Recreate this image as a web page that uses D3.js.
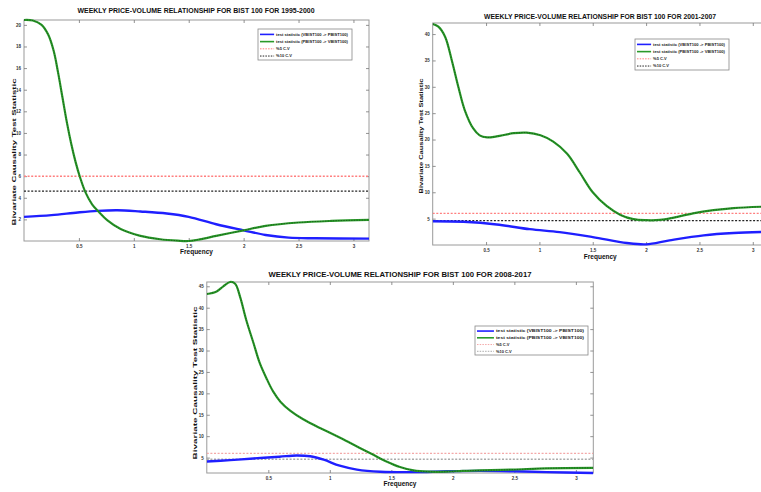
<!DOCTYPE html>
<html><head><meta charset="utf-8">
<script src="https://cdn.jsdelivr.net/npm/d3@7"></script>
<style>body{margin:0;background:#fff}svg{display:block}</style>
</head><body>
<svg id="c" width="761" height="492"></svg>
<script>
// ---------- DATA ----------
const titles = [
  "WEEKLY PRICE-VOLUME RELATIONSHIP FOR BIST 100 FOR 1995-2000",
  "WEEKLY PRICE-VOLUME RELATIONSHIP FOR BIST 100 FOR 2001-2007",
  "WEEKLY PRICE-VOLUME RELATIONSHIP FOR BIST 100 FOR 2008-2017"
];
const xLabel = "Frequency";
const yLabel = "Bivariate Causality Test Statistic";
const legendLabels = [
  "test statistic (VBIST100 -> PBIST100)",
  "test statistic (PBIST100 -> VBIST100)",
  "%5 C.V",
  "%10 C.V"
];
const freqTicks = [0.5, 1, 1.5, 2, 2.5, 3];
const yTicks1 = [2, 4, 6, 8, 10, 12, 14, 16, 18, 20];
const yTicks2 = [5, 10, 15, 20, 25, 30, 35, 40];
const yTicks3 = [5, 10, 15, 20, 25, 30, 35, 40, 45];
const cv5 = 5.99;
const cv10 = 4.61;

// Panel 1 (1995-2000)
const freq1Blue = [0, 0.25, 0.49, 0.67, 0.85, 1.06, 1.30, 1.50, 1.75, 2.00, 2.20, 2.41, 2.65, 3.1416];
const stat1Blue = [2.23, 2.39, 2.64, 2.79, 2.85, 2.73, 2.54, 2.23, 1.55, 0.99, 0.56, 0.31, 0.25, 0.22];
const freq1Green = [0, 0.08, 0.16, 0.22, 0.27, 0.31, 0.35, 0.39, 0.43, 0.47, 0.51, 0.56, 0.62, 0.68, 0.76, 0.88, 1.06, 1.24, 1.40, 1.50, 1.60, 1.75, 2.00, 2.20, 2.50, 2.80, 3.1416];
const stat1Green = [20.45, 20.4, 20.0, 19.1, 17.6, 15.6, 13.3, 11.0, 9.0, 7.3, 5.9, 4.5, 3.4, 2.7, 1.9, 1.1, 0.47, 0.16, 0.03, 0.0, 0.15, 0.47, 0.99, 1.40, 1.71, 1.86, 1.95];

// Panel 2 (2001-2007)
const freq2Blue = [0, 0.29, 0.60, 0.91, 1.19, 1.50, 1.82, 2.00, 2.22, 2.54, 2.82, 3.1416];
const stat2Blue = [4.5, 4.4, 3.9, 3.0, 2.45, 1.5, 0.37, 0.12, 0.88, 1.83, 2.27, 2.5];
const freq2Green = [0, 0.053, 0.116, 0.178, 0.24, 0.30, 0.38, 0.44, 0.51, 0.60, 0.76, 0.88, 1.01, 1.13, 1.26, 1.38, 1.50, 1.63, 1.76, 1.88, 2.00, 2.13, 2.26, 2.44, 2.63, 2.82, 3.1416];
const stat2Green = [41.9, 41.4, 39.5, 35.1, 30.0, 25.6, 22.1, 20.8, 20.4, 20.6, 21.2, 21.3, 20.8, 19.6, 17.3, 13.7, 10.0, 7.4, 5.7, 4.9, 4.7, 4.75, 5.2, 6.0, 6.6, 7.0, 7.3];

// Panel 3 (2008-2017)
const freq3Blue = [0, 0.19, 0.38, 0.59, 0.73, 0.84, 0.95, 1.08, 1.22, 1.41, 1.68, 1.95, 2.22, 2.49, 2.76, 3.1416];
const stat3Blue = [4.1, 4.4, 4.8, 5.2, 5.5, 5.3, 4.5, 3.1, 2.2, 1.7, 1.6, 1.8, 1.9, 1.8, 1.6, 1.4];
const freq3Green = [0, 0.08, 0.134, 0.189, 0.23, 0.27, 0.32, 0.38, 0.43, 0.49, 0.54, 0.60, 0.68, 0.78, 0.92, 1.03, 1.14, 1.24, 1.35, 1.46, 1.57, 1.68, 1.81, 1.95, 2.08, 2.22, 2.49, 2.76, 3.1416];
const stat3Green = [43.2, 43.8, 45.0, 46.0, 45.6, 42.6, 37.2, 31.7, 27.1, 23.2, 20.4, 18.0, 15.9, 14.0, 11.9, 10.4, 8.8, 7.3, 5.7, 4.1, 2.8, 2.0, 1.7, 1.7, 1.9, 2.0, 2.2, 2.5, 2.6];

// ---------- LAYOUT ----------
const panels = [
  {left:24, right:369, top:20, bottom:241, yDomain:[0, 20.45], yTicks:yTicks1,
   blue:[freq1Blue, stat1Blue], green:[freq1Green, stat1Green], title:titles[0],
   titleX:196, titleY:13, titleLen:237, ylabX:16, ylabY:152, ylabLen:147, xlabY:254,
   leg:{x:258, y:29, w:94, h:31}, red:"#ff7f7f", blk:"#222"},
  {left:432.7, right:767.9, top:23, bottom:245, yDomain:[0, 42.1], yTicks:yTicks2,
   blue:[freq2Blue, stat2Blue], green:[freq2Green, stat2Green], title:titles[1],
   titleX:600, titleY:19, titleLen:232, ylabX:423, ylabY:136, ylabLen:115, xlabY:259,
   leg:{x:635, y:39, w:94, h:31}, red:"#ff7f7f", blk:"#222"},
  {left:206.8, right:593.3, top:282, bottom:473, yDomain:[1.4, 46.0], yTicks:yTicks3,
   blue:[freq3Blue, stat3Blue], green:[freq3Green, stat3Green], title:titles[2],
   titleX:400, titleY:277, titleLen:263, ylabX:197, ylabY:383, ylabLen:153, xlabY:486,
   leg:{x:475, y:326, w:113, h:29}, red:"#f4a8a8", blk:"#aaa"}
];

const svg = d3.select("#c");
const BLUE = "#1f1fff", GREEN = "#2a9a2a";

panels.forEach((p, i) => {
  const x = d3.scaleLinear().domain([0, Math.PI]).range([p.left, p.right]);
  const y = d3.scaleLinear().domain(p.yDomain).range([p.bottom, p.top]);
  const g = svg.append("g");
  const cid = "clip" + i;
  svg.append("clipPath").attr("id", cid).append("rect")
    .attr("x", p.left).attr("y", p.top - 2).attr("width", p.right - p.left).attr("height", p.bottom - p.top + 4);

  g.append("rect").attr("x", p.left).attr("y", p.top).attr("width", p.right - p.left).attr("height", p.bottom - p.top)
    .attr("fill", "none").attr("stroke", "#9a9a9a").attr("stroke-width", 1);

  const styleAxis = (sel, showLabels) => {
    sel.select(".domain").remove();
    sel.selectAll(".tick line").attr("stroke", "#777").attr("stroke-width", 0.8);
    sel.selectAll(".tick text").attr("fill", "#333").style("font", "bold 4.5px Arial, sans-serif")
      .attr("opacity", showLabels ? 1 : 0);
  };
  g.append("g").attr("transform", `translate(0,${p.bottom})`)
    .call(d3.axisBottom(x).tickValues(freqTicks).tickSizeInner(-3).tickSizeOuter(0).tickPadding(4).tickFormat(d3.format("")))
    .call(s => styleAxis(s, true));
  g.append("g").attr("transform", `translate(0,${p.top})`)
    .call(d3.axisTop(x).tickValues(freqTicks).tickSizeInner(-3).tickSizeOuter(0).tickFormat(""))
    .call(s => styleAxis(s, false));
  g.append("g").attr("transform", `translate(${p.left},0)`)
    .call(d3.axisLeft(y).tickValues(p.yTicks).tickSizeInner(-3).tickSizeOuter(0).tickPadding(3).tickFormat(d3.format("")))
    .call(s => styleAxis(s, true));
  g.append("g").attr("transform", `translate(${p.right},0)`)
    .call(d3.axisRight(y).tickValues(p.yTicks).tickSizeInner(-3).tickSizeOuter(0).tickFormat(""))
    .call(s => styleAxis(s, false));

  const plot = g.append("g").attr("clip-path", `url(#${cid})`);
  plot.append("line").attr("x1", p.left).attr("x2", p.right).attr("y1", y(cv5)).attr("y2", y(cv5))
    .attr("stroke", p.red).attr("stroke-width", 1.3).attr("stroke-dasharray", "2,1.6");
  plot.append("line").attr("x1", p.left).attr("x2", p.right).attr("y1", y(cv10)).attr("y2", y(cv10))
    .attr("stroke", p.blk).attr("stroke-width", 1.3).attr("stroke-dasharray", "2,1.6");

  const line = d3.line().x(d => x(d[0])).y(d => y(d[1])).curve(d3.curveCatmullRom.alpha(0.5));
  const bpts = p.blue[0].map((f, k) => [f, p.blue[1][k]]);
  const gpts = p.green[0].map((f, k) => [f, p.green[1][k]]);
  plot.append("path").attr("d", line(bpts)).attr("fill", "none").attr("stroke", BLUE).attr("stroke-width", 2.4);
  plot.append("path").attr("d", line(gpts)).attr("fill", "none").attr("stroke", GREEN).attr("stroke-width", 2.2);
  plot.append("path").attr("d", line(gpts)).attr("fill", "none").attr("stroke", "#0c3a0c")
    .attr("stroke-width", 0.8).attr("stroke-dasharray", "1.4,1.2").attr("opacity", 0.7);

  g.append("text").attr("x", p.titleX).attr("y", p.titleY).attr("text-anchor", "middle")
    .attr("textLength", p.titleLen).attr("lengthAdjust", "spacingAndGlyphs")
    .style("font", "bold 7.5px Arial, sans-serif").attr("fill", "#111").text(p.title);
  g.append("text").attr("transform", `translate(${p.ylabX},${p.ylabY}) rotate(-90)`).attr("text-anchor", "middle")
    .attr("textLength", p.ylabLen).attr("lengthAdjust", "spacingAndGlyphs")
    .style("font", "bold 6px Arial, sans-serif").attr("fill", "#111").text(yLabel);
  g.append("text").attr("x", (p.left + p.right) / 2).attr("y", p.xlabY).attr("text-anchor", "middle")
    .style("font", "bold 6.5px Arial, sans-serif").attr("fill", "#111").text(xLabel);

  const L = p.leg;
  const lg = g.append("g");
  lg.append("rect").attr("x", L.x).attr("y", L.y).attr("width", L.w).attr("height", L.h)
    .attr("fill", "#fff").attr("stroke", "#888").attr("stroke-width", 0.8);
  const rowH = L.h / 4.3;
  const sw = L.w * 0.15;
  const colors = [BLUE, GREEN, p.red, p.blk];
  legendLabels.forEach((lab, k) => {
    const yy = L.y + rowH * (k + 0.75);
    lg.append("line").attr("x1", L.x + 2).attr("x2", L.x + 2 + sw).attr("y1", yy).attr("y2", yy)
      .attr("stroke", colors[k]).attr("stroke-width", k < 2 ? 1.6 : 1)
      .attr("stroke-dasharray", k < 2 ? null : "1.5,1.2");
    const t = lg.append("text").attr("x", L.x + 4 + sw).attr("y", yy + 1.4)
      .style("font", "bold 4px Arial, sans-serif").attr("fill", "#222").text(lab);
    if (k < 2) t.attr("textLength", L.w - sw - 8).attr("lengthAdjust", "spacingAndGlyphs");
  });
});
</script>
</body></html>
